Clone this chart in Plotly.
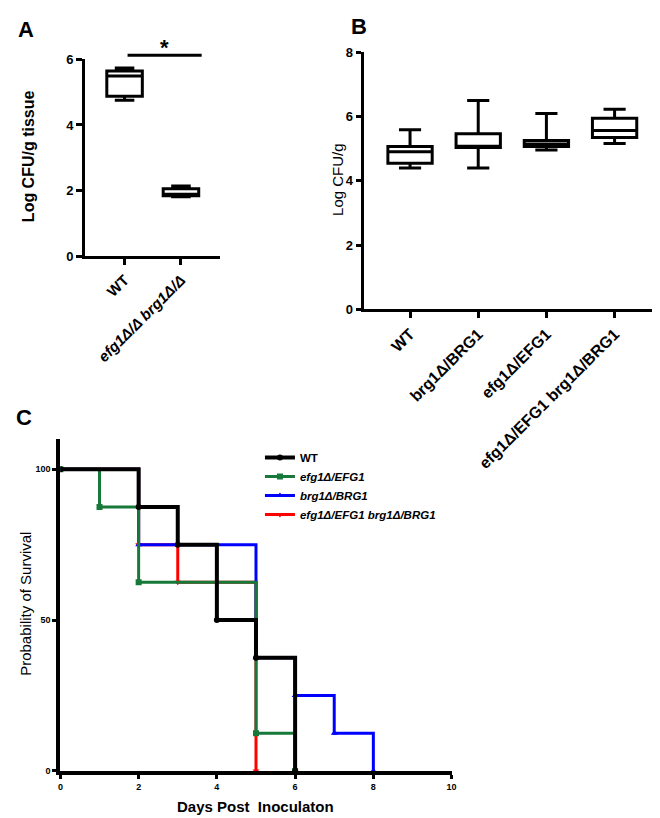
import plotly.graph_objects as go

FONT = "Arial, Liberation Sans, sans-serif"

# ---------------- Panel A data ----------------
a_cats = ["WT", "efg1Δ/Δ brg1Δ/Δ"]
a_lower = [4.75, 1.82]
a_q1 = [4.87, 1.85]
a_med = [5.49, 1.89]
a_q3 = [5.64, 2.06]
a_upper = [5.73, 2.14]
a_yticks = [0, 2, 4, 6]

# ---------------- Panel B data ----------------
b_cats = ["WT", "brg1Δ/BRG1", "efg1Δ/EFG1", "efg1Δ/EFG1 brg1Δ/BRG1"]
b_lower = [4.40, 4.40, 4.96, 5.16]
b_q1 = [4.55, 5.04, 5.07, 5.35]
b_med = [4.91, 5.08, 5.15, 5.57]
b_q3 = [5.07, 5.47, 5.26, 5.95]
b_upper = [5.59, 6.50, 6.10, 6.23]
b_yticks = [0, 2, 4, 6, 8]

# ---------------- Panel C data (Kaplan-Meier) ----------------
wt_days = [0, 2, 3, 4, 5, 6]
wt_surv = [100, 87.5, 75, 50, 37.5, 0]
efg_days = [0, 1, 2, 5, 6]
efg_surv = [100, 87.5, 62.5, 12.5, 0]
brg_days = [0, 2, 5, 6, 7, 8]
brg_surv = [100, 75, 37.5, 25, 12.5, 0]
dbl_days = [0, 2, 3, 5]
dbl_surv = [100, 75, 62.5, 0]
c_xticks = [0, 2, 4, 6, 8, 10]
c_yticks = [0, 50, 100]

fig = go.Figure()

# Panel A boxes
fig.add_trace(go.Box(
    x=list(range(len(a_cats))), q1=a_q1, median=a_med, q3=a_q3,
    lowerfence=a_lower, upperfence=a_upper,
    width=0.63, whiskerwidth=0.55,
    line=dict(color="black", width=3), fillcolor="white",
    boxpoints=False, showlegend=False, xaxis="x", yaxis="y", hoverinfo="skip"))

# Panel B boxes
fig.add_trace(go.Box(
    x=list(range(len(b_cats))), q1=b_q1, median=b_med, q3=b_q3,
    lowerfence=b_lower, upperfence=b_upper,
    width=0.65, whiskerwidth=0.5,
    line=dict(color="black", width=3), fillcolor="white",
    boxpoints=False, showlegend=False, xaxis="x2", yaxis="y2", hoverinfo="skip"))

# Panel C survival curves (drawn bottom to top: red, blue, green, black)
GREEN = "#16793a"
curves = [
    ("<b><i>efg1Δ/EFG1 brg1Δ/BRG1</i></b>", dbl_days, dbl_surv, "#ff0000", 3, "triangle-down", 4),
    ("<b><i>brg1Δ/BRG1</i></b>", brg_days, brg_surv, "#0000ff", 3, "triangle-up", 3),
    ("<b><i>efg1Δ/EFG1</i></b>", efg_days, efg_surv, GREEN, 3, "square", 2),
    ("<b>WT</b>", wt_days, wt_surv, "black", 4, "circle", 1),
]
for name, d, s, col, lw, sym, rank in curves:
    fig.add_trace(go.Scatter(
        x=d, y=s, mode="lines+markers", name=name,
        line=dict(color=col, width=lw, shape="hv"),
        marker=dict(color=col, symbol=sym, size=6),
        xaxis="x3", yaxis="y3", legendrank=rank, hoverinfo="skip"))

axis_common = dict(showgrid=False, zeroline=False, showline=True, linecolor="black",
                   ticks="outside", tickcolor="black", fixedrange=True)

W, H = 660, 818
def px(x):
    return x / W
def py(y):
    return 1 - y / H

fig.update_layout(
    width=W, height=H, margin=dict(l=0, r=0, t=0, b=0),
    paper_bgcolor="white", plot_bgcolor="white",
    font=dict(family=FONT, color="black"),
    xaxis=dict(domain=[px(75), px(212)], range=[-0.70, 1.70],
               tickvals=list(range(len(a_cats))),
               ticktext=["<b>WT</b>", "<b><i>efg1Δ/Δ brg1Δ/Δ</i></b>"],
               tickangle=-45, tickfont=dict(size=15), linewidth=3, tickwidth=3, ticklen=6,
               anchor="y", **axis_common),
    yaxis=dict(domain=[py(246), py(45)], range=[0, 6], tickvals=a_yticks,
               ticktext=[f"<b>{v}</b>" for v in a_yticks], tickfont=dict(size=13),
               linewidth=3, tickwidth=3, ticklen=6, anchor="x", **axis_common),
    xaxis2=dict(domain=[px(357), 1.0], range=[-0.68, 3.71],
                tickvals=list(range(len(b_cats))),
                ticktext=[f"<b>{c}</b>" for c in b_cats],
                tickangle=-45, tickfont=dict(size=16), linewidth=3, tickwidth=3, ticklen=6,
                anchor="y2", **axis_common),
    yaxis2=dict(domain=[py(300), py(38)], range=[0, 8], tickvals=b_yticks,
                ticktext=[f"<b>{v}</b>" for v in b_yticks], tickfont=dict(size=13),
                linewidth=3, tickwidth=3, ticklen=5, anchor="x2", **axis_common),
    xaxis3=dict(domain=[px(50), px(446)], range=[0, 10], tickvals=c_xticks,
                ticktext=[f"<b>{v}</b>" for v in c_xticks], tickfont=dict(size=9),
                linewidth=4, tickwidth=3, ticklen=4, anchor="y3", **axis_common),
    yaxis3=dict(domain=[py(770), py(432)], range=[0, 110], tickvals=c_yticks,
                ticktext=[f"<b>{v}</b>" for v in c_yticks], tickfont=dict(size=9),
                linewidth=4, tickwidth=3, ticklen=4, anchor="x3", **axis_common),
    legend=dict(x=px(252), y=py(436), xanchor="left", yanchor="top",
                font=dict(size=11.5, family=FONT), bgcolor="rgba(0,0,0,0)",
                itemwidth=30, tracegroupgap=0),
)

# Significance bar in panel A
fig.add_shape(type="line", xref="paper", yref="paper",
              x0=px(118), x1=px(193), y0=py(41), y1=py(41),
              line=dict(color="black", width=3))

ann = [
    dict(text="<b>*</b>", x=px(155), y=py(33), font=dict(size=22)),
    dict(text="<b>A</b>", x=px(15), y=py(15), font=dict(size=22)),
    dict(text="<b>B</b>", x=px(352), y=py(12), font=dict(size=22)),
    dict(text="<b>C</b>", x=px(13), y=py(410), font=dict(size=22)),
    dict(text="<b>Log CFU/g tissue</b>", x=px(18), y=py(144), textangle=-90, font=dict(size=16)),
    dict(text="Log CFU/g", x=px(331), y=py(167), textangle=-90, font=dict(size=15)),
    dict(text="Probability of Survival", x=px(15), y=py(600), textangle=-90, font=dict(size=15)),
    dict(text="<b>Days Post\u00a0 Inoculaton</b>", x=px(248), y=py(806), font=dict(size=15)),
]
for a in ann:
    fig.add_annotation(xref="paper", yref="paper", showarrow=False,
                       xanchor="center", yanchor="middle", **a)

fig.write_html("out.html")
